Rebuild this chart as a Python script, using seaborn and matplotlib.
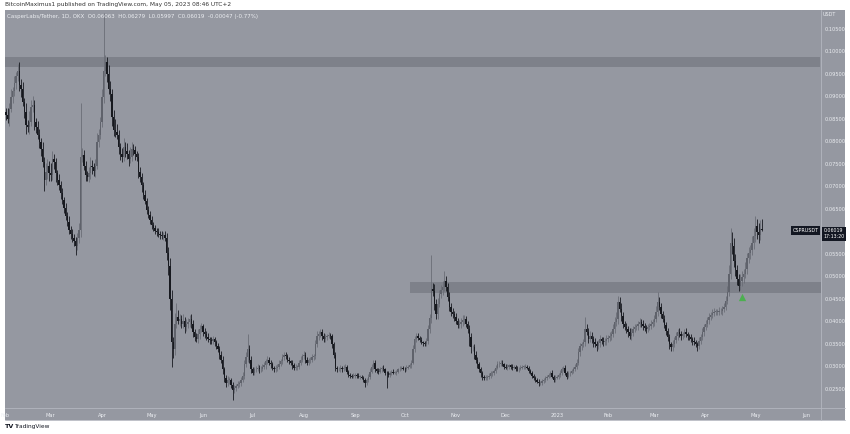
import numpy as np
import pandas as pd
import matplotlib
matplotlib.use("Agg")
import matplotlib.pyplot as plt
import matplotlib.dates as mdates
import matplotlib.transforms as mtransforms
import seaborn as sns

# ---------------- data (prices in units of 0.0001 USDT) ----------------
start_date = "2022-02-02"
first_open = 865
closes = [
    859, 850, 872, 899, 911, 929, 944, 956, 926, 917,
    888, 866, 836, 832, 843, 877, 881, 843, 832, 814,
    798, 783, 753, 715, 731, 746, 729, 724, 760, 753,
    729, 715, 702, 686, 670, 652, 634, 621, 603, 594,
    585, 578, 567, 585, 603, 765, 769, 746, 724, 720,
    729, 746, 742, 733, 746, 798, 814, 843, 899, 956,
    976, 949, 917, 904, 854, 825, 821, 814, 787, 771,
    765, 787, 778, 771, 760, 765, 783, 780, 771, 765,
    731, 720, 702, 681, 668, 648, 636, 625, 614, 607,
    600, 598, 594, 592, 589, 592, 585, 551, 522, 450,
    353, 338, 394, 410, 401, 405, 394, 401, 387, 394,
    398, 405, 394, 376, 365, 360, 371, 383, 389, 376,
    371, 365, 360, 358, 356, 360, 353, 344, 338, 326,
    315, 293, 275, 263, 270, 270, 259, 248, 252, 256,
    261, 263, 270, 279, 304, 320, 338, 315, 293, 286,
    293, 295, 297, 293, 295, 299, 302, 311, 315, 308,
    304, 297, 293, 297, 299, 306, 311, 320, 326, 322,
    315, 311, 308, 302, 297, 299, 299, 308, 315, 322,
    326, 315, 308, 313, 315, 320, 322, 349, 367, 371,
    376, 367, 360, 365, 367, 369, 367, 349, 326, 297,
    293, 293, 297, 293, 297, 299, 288, 281, 279, 277,
    279, 281, 279, 277, 277, 275, 270, 263, 270, 277,
    288, 299, 308, 293, 290, 288, 293, 297, 293, 286,
    284, 281, 286, 288, 286, 286, 288, 293, 295, 297,
    295, 293, 297, 299, 302, 308, 338, 360, 367, 362,
    358, 353, 351, 349, 356, 383, 407, 472, 468, 439,
    416, 439, 461, 470, 477, 490, 477, 454, 432, 421,
    416, 410, 401, 392, 394, 398, 403, 405, 394, 383,
    365, 342, 342, 326, 315, 304, 293, 284, 277, 275,
    275, 277, 279, 284, 286, 290, 297, 304, 306, 308,
    304, 299, 297, 299, 302, 299, 297, 299, 295, 293,
    295, 297, 299, 299, 299, 297, 290, 286, 279, 275,
    270, 266, 263, 263, 268, 270, 275, 277, 281, 286,
    277, 270, 275, 277, 281, 286, 293, 297, 286, 277,
    284, 286, 290, 293, 299, 308, 331, 344, 349, 353,
    383, 376, 360, 367, 360, 353, 349, 344, 351, 360,
    356, 353, 356, 360, 362, 367, 371, 383, 398, 405,
    443, 428, 412, 394, 387, 383, 376, 367, 374, 383,
    387, 389, 394, 398, 394, 389, 385, 383, 387, 389,
    394, 398, 405, 421, 443, 432, 416, 405, 392, 378,
    365, 349, 342, 349, 358, 367, 376, 371, 367, 371,
    376, 371, 367, 365, 360, 356, 353, 349, 344, 356,
    365, 376, 387, 394, 403, 410, 414, 419, 421, 421,
    421, 423, 423, 428, 432, 446, 466, 506, 574, 567,
    535, 513, 495, 479, 490, 499, 506, 517, 540, 551,
    558, 574, 589, 612, 598, 592, 606, 602,
]
up_wick = [
    10, 14, 12, 18, 9, 15, 11, 15, 20, 12,
    14, 9, 18, 12, 25, 15, 20, 10, 8, 12,
    14, 9, 16, 11, 20, 15, 10, 22, 18, 12,
    10, 8, 12, 9, 11, 7, 10, 8, 12, 9,
    10, 8, 9, 12, 15, 119, 15, 12, 10, 9,
    14, 20, 12, 10, 15, 20, 14, 12, 18, 130,
    15, 12, 20, 18, 12, 15, 25, 18, 12, 10,
    15, 20, 12, 18, 10, 22, 15, 12, 10, 8,
    10, 12, 9, 8, 10, 7, 9, 8, 10, 6,
    8, 7, 9, 6, 8, 7, 9, 12, 15, 18,
    20, 12, 25, 30, 15, 12, 10, 15, 8, 12,
    10, 8, 12, 9, 7, 10, 12, 9, 8, 6,
    8, 7, 9, 6, 8, 7, 6, 5, 7, 6,
    8, 7, 6, 5, 8, 6, 5, 6, 7, 5,
    6, 5, 7, 9, 10, 12, 33, 10, 8, 6,
    5, 6, 7, 5, 6, 5, 7, 6, 8, 5,
    6, 5, 4, 6, 5, 7, 6, 8, 6, 5,
    6, 5, 4, 5, 6, 5, 4, 6, 7, 6,
    8, 5, 6, 5, 6, 7, 6, 10, 12, 8,
    7, 6, 8, 6, 5, 7, 6, 5, 6, 5,
    4, 5, 6, 4, 5, 6, 4, 3, 5, 4,
    5, 4, 3, 5, 4, 3, 4, 5, 4, 6,
    8, 6, 7, 5, 4, 6, 5, 4, 5, 4,
    4, 5, 4, 3, 5, 4, 3, 4, 5, 4,
    4, 3, 5, 4, 5, 6, 10, 8, 6, 7,
    5, 6, 4, 5, 6, 8, 10, 75, 12, 15,
    10, 12, 8, 10, 12, 21, 10, 8, 10, 8,
    9, 7, 8, 6, 8, 9, 12, 10, 7, 6,
    8, 10, 6, 8, 7, 6, 5, 6, 5, 4,
    5, 4, 6, 5, 4, 5, 6, 8, 5, 6,
    5, 4, 6, 5, 4, 3, 5, 4, 3, 5,
    4, 5, 4, 3, 5, 4, 3, 5, 4, 3,
    4, 3, 5, 4, 3, 5, 4, 3, 5, 4,
    6, 4, 5, 3, 4, 5, 6, 4, 5, 4,
    5, 4, 3, 5, 6, 8, 10, 8, 6, 7,
    27, 10, 8, 12, 9, 7, 10, 8, 7, 9,
    6, 8, 7, 10, 8, 9, 7, 10, 12, 15,
    14, 10, 12, 8, 7, 9, 6, 8, 10, 7,
    8, 6, 7, 9, 6, 8, 7, 6, 8, 7,
    9, 8, 10, 12, 23, 10, 8, 7, 9, 6,
    8, 7, 6, 9, 8, 10, 7, 9, 8, 6,
    7, 8, 6, 5, 7, 6, 8, 5, 6, 9,
    7, 8, 6, 9, 7, 8, 6, 8, 9, 7,
    6, 8, 7, 6, 8, 10, 12, 20, 33, 25,
    18, 15, 12, 10, 14, 12, 10, 15, 12, 14,
    12, 15, 18, 22, 15, 20, 18, 22,
]
down_wick = [
    12, 10, 15, 8, 14, 10, 12, 9, 15, 18,
    10, 14, 20, 12, 15, 10, 12, 18, 14, 10,
    12, 15, 10, 25, 12, 14, 18, 12, 10, 14,
    20, 12, 10, 14, 9, 12, 8, 10, 9, 11,
    8, 10, 20, 9, 10, 15, 12, 10, 12, 8,
    10, 12, 15, 10, 12, 8, 10, 9, 12, 15,
    10, 18, 12, 15, 20, 14, 12, 10, 15, 12,
    10, 8, 12, 10, 14, 9, 8, 10, 12, 9,
    12, 10, 14, 9, 8, 10, 7, 9, 8, 7,
    6, 8, 7, 9, 6, 8, 7, 15, 20, 25,
    54, 20, 12, 10, 8, 12, 10, 9, 12, 8,
    9, 10, 8, 12, 9, 7, 8, 10, 7, 9,
    8, 6, 7, 8, 6, 7, 8, 6, 7, 9,
    8, 10, 9, 8, 7, 10, 8, 23, 7, 6,
    5, 7, 6, 5, 8, 6, 10, 8, 7, 6,
    5, 6, 5, 7, 5, 6, 5, 7, 6, 5,
    7, 5, 6, 5, 7, 5, 6, 5, 7, 6,
    5, 6, 5, 7, 5, 6, 8, 5, 6, 5,
    6, 8, 5, 6, 5, 6, 5, 6, 7, 8,
    6, 8, 7, 5, 6, 5, 6, 8, 7, 8,
    5, 4, 6, 5, 4, 5, 6, 4, 5, 4,
    4, 5, 4, 3, 5, 4, 5, 8, 4, 5,
    5, 4, 6, 5, 4, 5, 4, 5, 4, 6,
    32, 5, 4, 5, 4, 3, 5, 4, 3, 4,
    4, 5, 3, 4, 3, 5, 4, 6, 5, 4,
    5, 4, 5, 4, 5, 6, 8, 10, 12, 15,
    12, 10, 8, 10, 12, 9, 10, 8, 10, 9,
    8, 9, 7, 8, 7, 9, 8, 10, 7, 9,
    20, 12, 8, 10, 7, 8, 6, 7, 8, 6,
    5, 6, 5, 4, 5, 6, 5, 4, 5, 6,
    4, 5, 4, 5, 4, 5, 6, 4, 5, 4,
    5, 4, 3, 5, 4, 3, 5, 4, 5, 6,
    5, 4, 6, 5, 4, 5, 4, 5, 4, 5,
    4, 6, 5, 4, 5, 4, 5, 4, 6, 5,
    4, 5, 4, 5, 4, 5, 6, 8, 7, 6,
    8, 7, 9, 6, 8, 10, 7, 9, 6, 8,
    7, 9, 6, 8, 7, 6, 8, 7, 9, 8,
    10, 8, 12, 9, 7, 8, 10, 7, 8, 6,
    7, 6, 8, 7, 6, 8, 7, 9, 6, 7,
    6, 7, 8, 6, 10, 8, 9, 7, 8, 9,
    8, 10, 9, 8, 7, 6, 8, 7, 9, 6,
    6, 7, 8, 6, 7, 8, 6, 7, 9, 6,
    7, 6, 8, 7, 6, 8, 7, 6, 7, 8,
    6, 7, 6, 8, 7, 6, 8, 10, 12, 18,
    15, 12, 14, 11, 10, 12, 14, 10, 12, 10,
    12, 10, 14, 12, 15, 18, 12, 2,
]
price_unit = 1e-4

# 0.06000 is hidden behind the last-price tag in the reference
price_ticks = [0.025, 0.030, 0.035, 0.040, 0.045, 0.050, 0.055, 0.065,
               0.070, 0.075, 0.080, 0.085, 0.090, 0.095, 0.100, 0.105]
month_ticks = ["2022-02-01", "2022-03-01", "2022-04-01", "2022-05-01", "2022-06-01",
               "2022-07-01", "2022-08-01", "2022-09-01", "2022-10-01", "2022-11-01",
               "2022-12-01", "2023-01-01", "2023-02-01", "2023-03-01", "2023-04-01",
               "2023-05-01", "2023-06-01"]
month_labels = ["Feb", "Mar", "Apr", "May", "Jun", "Jul", "Aug", "Sep", "Oct", "Nov",
                "Dec", "2023", "Feb", "Mar", "Apr", "May", "Jun"]
upper_zone = (0.0965, 0.0987)
lower_zone = (0.0463, 0.0488)
lower_zone_start = "2022-10-04"
signal_date = "2023-04-23"
signal_price = 0.0454
last_close_value = 0.06019
last_close_text = "0.06019"
countdown_text = "17:13:20"

# ---------------- build OHLC table ----------------
n = min(len(closes), len(up_wick), len(down_wick))
c = np.array(closes[:n], float) * price_unit
o = np.array([first_open] + closes[:n - 1], float) * price_unit
hi = np.maximum(o, c) + np.array(up_wick[:n]) * price_unit
lo = np.minimum(o, c) - np.array(down_wick[:n]) * price_unit
dates = pd.date_range(start_date, periods=n, freq="D")
df = pd.DataFrame({"date": dates, "open": o, "high": hi, "low": lo, "close": c})
df["x"] = mdates.date2num(df["date"])

# ---------------- styling ----------------
sns.set_style("white")
plt.rcParams["font.family"] = ["DejaVu Sans"]

BG = "#9598a1"
BAND = "#7e818a"
UP = "#5f626b"
DOWN = "#17191f"
WICK_UP = "#6a6d76"
TXT = "#eceef2"
BORDER = "#b4b7bf"

W, H = 850, 434
fig = plt.figure(figsize=(W / 100, H / 100), dpi=100)
fig.patch.set_facecolor("white")

def fx(px):
    return px / W

def fy(py):
    return 1 - py / H

# chart panel background (plot + price axis + time axis)
panel = plt.Rectangle((fx(4.5), fy(420)), fx(845) - fx(4.5), fy(10) - fy(420),
                      transform=fig.transFigure, facecolor=BG, edgecolor="none", zorder=-5)
fig.patches.append(panel)

ax = fig.add_axes([fx(4.5), fy(405), fx(820) - fx(4.5), fy(10) - fy(405)])
ax.set_zorder(2)
ax.set_facecolor(BG)

base = mdates.date2num(pd.Timestamp("2022-02-01"))
ax.set_xlim(base + 0.9, base + 493.1)
ax.set_ylim(0.02140, 0.10917)

# zones
ax.axhspan(*upper_zone, color=BAND, lw=0, zorder=1)
zx0 = mdates.date2num(pd.Timestamp(lower_zone_start))
ax.fill_between([zx0, base + 500], lower_zone[0], lower_zone[1], color=BAND, lw=0, zorder=1)

# candles
is_up = (df["close"] >= df["open"]).to_numpy()
colors = np.where(is_up, UP, DOWN)
wick_colors = np.where(is_up, WICK_UP, DOWN)
ax.vlines(df["x"], df["low"], df["high"], colors=wick_colors, linewidth=0.6, zorder=2)
body_h = np.maximum((df["close"] - df["open"]).abs(), 0.00008)
ax.bar(df["x"], body_h, bottom=np.minimum(df["open"], df["close"]), width=0.8,
       color=colors, linewidth=0, zorder=3)

# green signal marker
sig = pd.DataFrame({"x": [mdates.date2num(pd.Timestamp(signal_date))], "y": [signal_price]})
sns.scatterplot(data=sig, x="x", y="y", marker="^", color="#4caf50", s=28,
                linewidth=0, ax=ax, zorder=4)
ax.set_xlabel("")
ax.set_ylabel("")

# axes ticks
ax.yaxis.tick_right()
ax.set_yticks(price_ticks)
ax.set_yticklabels([f"{t:.5f}" for t in price_ticks])
ax.set_xticks([mdates.date2num(pd.Timestamp(d)) for d in month_ticks])
ax.set_xticklabels(month_labels)
ax.tick_params(axis="y", length=0, pad=3.2, labelsize=3.6, labelcolor=TXT)
ax.tick_params(axis="x", length=0, pad=5.5, labelsize=3.7, labelcolor=TXT)
for s in ax.spines.values():
    s.set_visible(False)
ax.grid(False)

# panel separators
fig.add_artist(plt.Line2D([fx(820.5), fx(820.5)], [fy(10), fy(420)], transform=fig.transFigure,
                          color=BORDER, lw=0.6, zorder=5))
fig.add_artist(plt.Line2D([fx(4.5), fx(845)], [fy(407.5), fy(407.5)], transform=fig.transFigure,
                          color=BORDER, lw=0.6, zorder=5))
fig.add_artist(plt.Line2D([fx(4.5), fx(845)], [fy(420), fy(420)], transform=fig.transFigure,
                          color=BORDER, lw=0.6, zorder=5))

# texts
fig.text(fx(5), fy(4.5), "BitcoinMaximus1 published on TradingView.com, May 05, 2023 08:46 UTC+2",
         fontsize=4.2, color="#333333", va="center", ha="left")
fig.text(fx(7), fy(16.5),
         "CasperLabs/Tether, 1D, OKX  O0.06063  H0.06279  L0.05997  C0.06019  -0.00047 (-0.77%)",
         fontsize=4.0, color=TXT, va="center", ha="left", zorder=6)
fig.text(fx(823), fy(15), "USDT", fontsize=3.5, color=TXT, va="center", ha="left", zorder=6)

tr = mtransforms.blended_transform_factory(ax.transAxes, ax.transData)
ax.text(0.9985, last_close_value, "CSPRUSDT", transform=tr, fontsize=3.5, color="white",
        ha="right", va="center", zorder=6,
        bbox=dict(boxstyle="square,pad=0.35", facecolor="#131722", edgecolor="none"))
ax.text(1.004, last_close_value + 0.00045, last_close_text + "\n" + countdown_text,
        transform=tr, fontsize=3.4, color="white", linespacing=1.25,
        ha="left", va="top", zorder=7, clip_on=False,
        bbox=dict(boxstyle="square,pad=0.35", facecolor="#131722", edgecolor="none"))

fig.text(fx(5), fy(426.5), "TV", fontsize=4.6, fontweight="bold", color="#131722",
         va="center", ha="left")
fig.text(fx(14.5), fy(426.5), "TradingView", fontsize=4.2, color="#131722",
         va="center", ha="left")

fig.savefig("out.png", dpi=100, facecolor="white")
